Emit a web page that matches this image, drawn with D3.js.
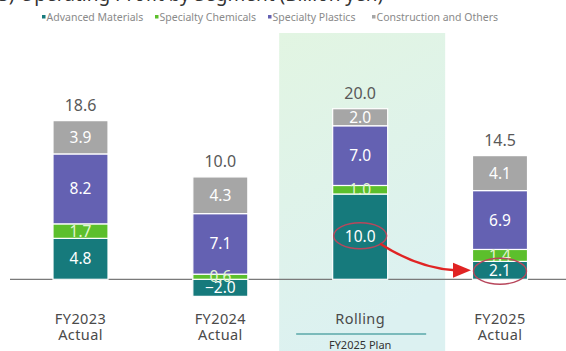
<!DOCTYPE html>
<html>
<head>
<meta charset="utf-8">
<script src="https://cdn.jsdelivr.net/npm/d3@7"></script>
<style>
  html, body { margin: 0; padding: 0; background: #fff; }
  svg { display: block; font-family: "Noto Sans", "Open Sans", sans-serif; }
</style>
</head>
<body>
<svg id="chart" width="566" height="351"></svg>
<script>
// Operating profit by segment, billion yen
const categories = ["FY2023", "FY2024", "Rolling", "FY2025"];
const categoryLines = [["FY2023", "Actual"], ["FY2024", "Actual"], ["Rolling"], ["FY2025", "Actual"]];
const segments = ["Advanced Materials", "Specialty Chemicals", "Specialty Plastics", "Construction and Others"];
const advancedMaterials = [4.8, -2.0, 10.0, 2.1];
const specialtyChemicals = [1.7, 0.6, 1.0, 1.4];
const specialtyPlastics = [8.2, 7.1, 7.0, 6.9];
const constructionOthers = [3.9, 4.3, 2.0, 4.1];
const totals = [18.6, 10.0, 20.0, 14.5];
const colors = ["#167a7c", "#5cbf2c", "#6461b2", "#a6a6a6"];
const labelColors = ["#ffffff", "#e2f6d2", "#ffffff", "#ffffff"];

const seriesValues = [advancedMaterials, specialtyChemicals, specialtyPlastics, constructionOthers];
const rows = categories.map((c, i) => {
  const r = { cat: c };
  segments.forEach((s, k) => { r[s] = seriesValues[k][i]; });
  return r;
});
const stacked = d3.stack().keys(segments).offset(d3.stackOffsetDiverging)(rows);

const svg = d3.select("#chart");
const W = 566, H = 351;

const x = d3.scalePoint().domain(categories).range([80.5, 500]);
const y = d3.scaleLinear().domain([0, 20]).range([279.3, 108.7]);
const barW = 55;

// shaded plan column
const defs = svg.append("defs");
const grad = defs.append("linearGradient").attr("id", "planBg")
  .attr("x1", 0).attr("y1", 0).attr("x2", 0.3).attr("y2", 1);
grad.append("stop").attr("offset", "0%").attr("stop-color", "#e2f5e2");
grad.append("stop").attr("offset", "100%").attr("stop-color", "#dcf1f1");
svg.append("rect")
  .attr("x", x("Rolling") - 81).attr("y", 33)
  .attr("width", 166).attr("height", H - 33)
  .attr("fill", "url(#planBg)");

// heading, mostly above the visible area
svg.append("text")
  .attr("x", -2).attr("y", 0.5)
  .attr("font-size", 19).attr("fill", "#333")
  .text("3) Operating Profit by Segment (Billion yen)");

// legend
const legendX = [42, 155, 268, 372];
const legend = svg.append("g").attr("font-size", 10.5).attr("fill", "#8a8a8a");
segments.forEach((s, k) => {
  legend.append("rect").attr("x", legendX[k]).attr("y", 15).attr("width", 3.5).attr("height", 3.5)
    .attr("fill", colors[k]);
  legend.append("text").attr("x", legendX[k] + 4.5).attr("y", 20.5).text(s);
});

// zero line
svg.append("line")
  .attr("x1", 10).attr("x2", W)
  .attr("y1", y(0)).attr("y2", y(0))
  .attr("stroke", "#7a7a7a").attr("stroke-width", 1.2);

// stacked bars
stacked.forEach((layer, k) => {
  const g = svg.append("g");
  g.selectAll("rect").data(layer).join("rect")
    .attr("x", d => x(d.data.cat) - barW / 2)
    .attr("y", d => y(Math.max(d[0], d[1])))
    .attr("width", barW)
    .attr("height", d => Math.abs(y(d[0]) - y(d[1])))
    .attr("fill", colors[k])
    .attr("stroke", "#fff").attr("stroke-width", 1.2);
});

// segment value labels
stacked.forEach((layer, k) => {
  svg.append("g").selectAll("text").data(layer).join("text")
    .attr("x", d => x(d.data.cat))
    .attr("y", d => y((d[0] + d[1]) / 2))
    .attr("dy", "0.36em")
    .attr("text-anchor", "middle")
    .attr("font-size", 15.5)
    .attr("fill", labelColors[k])
    .text(d => d3.format(".1f")(d.data[segments[k]]));
});

// totals above bars
svg.append("g").selectAll("text").data(categories).join("text")
  .attr("x", c => x(c))
  .attr("y", (c, i) => y(d3.sum(seriesValues, s => Math.max(0, s[i]))) - 10)
  .attr("text-anchor", "middle")
  .attr("font-size", 16)
  .attr("fill", "#595959")
  .text((c, i) => d3.format(".1f")(totals[i]));

// category labels
categories.forEach((c, i) => {
  const t = svg.append("text")
    .attr("x", x(c)).attr("y", 324)
    .attr("text-anchor", "middle").attr("font-size", 14.5)
    .attr("fill", "#4a4a4a").attr("letter-spacing", 0.4);
  categoryLines[i].forEach((line, j) => {
    t.append("tspan").attr("x", x(c)).attr("dy", j === 0 ? 0 : 16).text(line);
  });
});
svg.append("line")
  .attr("x1", x("Rolling") - 64).attr("x2", x("Rolling") + 66)
  .attr("y1", 334).attr("y2", 334)
  .attr("stroke", "#5aa7a8").attr("stroke-width", 1.5);
svg.append("text")
  .attr("x", x("Rolling")).attr("y", 349)
  .attr("text-anchor", "middle").attr("font-size", 11)
  .attr("fill", "#333").text("FY2025 Plan");

// highlight: Advanced Materials plan vs actual
const planPt = [x("Rolling"), y(advancedMaterials[2] / 2 + 0.1)];
const actPt = [x("FY2025"), y(advancedMaterials[3] / 2 - 0.1)];
[planPt, actPt].forEach(p => {
  svg.append("ellipse")
    .attr("cx", p[0]).attr("cy", p[1])
    .attr("rx", 26.5).attr("ry", 13)
    .attr("fill", "none").attr("stroke", "#b8475c").attr("stroke-width", 1.4);
});
const start = [planPt[0] + 20, planPt[1] + 8];
const end = [actPt[0] - 45, actPt[1] - 1];
svg.append("path")
  .attr("d", `M${start[0]},${start[1]} Q${start[0] + 38},${end[1] - 2} ${end[0]},${end[1]}`)
  .attr("fill", "none").attr("stroke", "#e02424").attr("stroke-width", 2.4);
svg.append("path")
  .attr("d", `M${end[0] - 2},${end[1] - 7.5} L${end[0] + 16},${end[1]} L${end[0] - 2},${end[1] + 7.5} Z`)
  .attr("fill", "#e02424");
</script>
</body>
</html>
